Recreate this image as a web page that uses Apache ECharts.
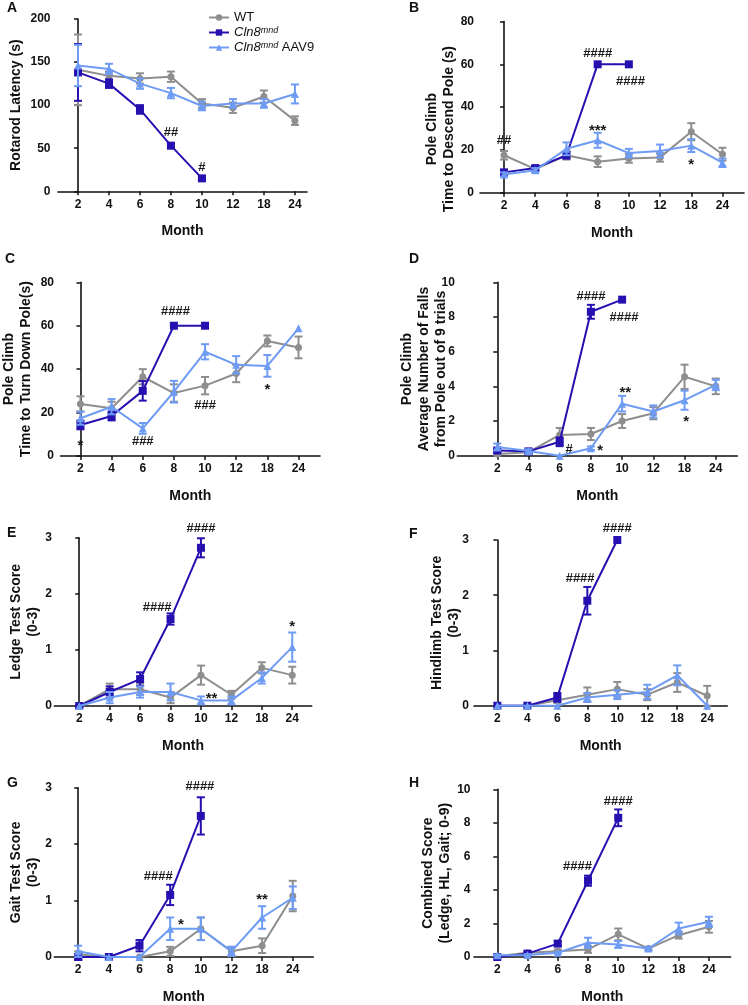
<!DOCTYPE html>
<html><head><meta charset="utf-8">
<script src="https://cdn.jsdelivr.net/npm/echarts@6/dist/echarts.min.js"></script>
<style>html,body{margin:0;padding:0;background:#fff}#c{width:748px;height:1005px}</style>
</head><body><div id="c"></div>
<script>
// ---------- DATA ----------
const months = ['2','4','6','8','10','12','18','24'];
const groups = ['WT','Cln8mnd','Cln8mnd AAV9'];

// A: Rotarod latency (s)
const wtA = [141, 134, 131, 133, 102, 97, 110, 82];
const wtAerr = [41, 5, 6, 6, 5, 6, 7, 5];
const mndA = [138, 125, 95, 53, 15];
const mndAerr = [33, 5, 5, 3, 2];
const aavA = [146, 142, 125, 114, 99, 102, 102, 113];
const aavAerr = [24, 6, 6, 6, 5, 5, 5, 11];
const annA = [[3, 68, '##'], [4, 28, '#']];

// B: Pole climb, time to descend (s)
const wtB = [17.5, 11, 17.5, 14.5, 16, 16.5, 28.5, 18];
const wtBerr = [2, 1, 2, 2.5, 2, 2, 4, 3];
const mndB = [9.5, 11.5, 17.5, 60, 60];
const mndBerr = [1, 1, 1.5, 0, 0];
const aavB = [8.5, 10.5, 20.5, 24.5, 18.5, 19.5, 22, 14];
const aavBerr = [1, 1, 3, 3.5, 2, 3, 3, 2];
const annB = [[0, 24.3, '##'], [3, 65, '####'], [4.05, 52, '####'], [3, 28.9, '***'], [6, 13, '*']];

// C: Pole climb, time to turn down (s)
const wtC = [24, 22, 36.5, 29, 32.4, 38, 53, 50];
const wtCerr = [3.5, 3, 3.5, 4, 4, 4, 2.5, 5];
const mndC = [14.3, 18.4, 30, 60, 60];
const mndCerr = [2, 2, 4.5, 0, 0];
const aavC = [17.4, 22.7, 12.7, 29.6, 48, 42, 41.5, 58.8];
const aavCerr = [3, 3.5, 2.5, 5, 3.5, 4, 5, 0];
const annC = [[0, 4.6, '*'], [2, 6.6, '###'], [3.05, 66.5, '####'], [4, 23.5, '###'], [6, 30.4, '*']];

// D: Average number of falls
const wtD = [0.1, 0.2, 1.2, 1.25, 2.0, 2.45, 4.55, 4.0];
const wtDerr = [0.1, 0.1, 0.4, 0.35, 0.4, 0.35, 0.7, 0.45];
const mndD = [0.3, 0.25, 0.8, 8.3, 9.0];
const mndDerr = [0.1, 0.1, 0.25, 0.4, 0];
const aavD = [0.5, 0.27, 0, 0.43, 3.0, 2.55, 3.2, 4.08];
const aavDerr = [0.2, 0.1, 0, 0.1, 0.45, 0.35, 0.55, 0.3];
const annD = [[3, 9.17, '####'], [4.06, 8.0, '####'], [2.3, 0.39, '#'], [3.3, 0.27, '*'], [4.1, 3.6, '**'], [6.05, 1.94, '*']];

// E: Ledge test score
const wtE = [0, 0.3, 0.3, 0.15, 0.55, 0.2, 0.68, 0.55];
const wtEerr = [0, 0.1, 0.1, 0.1, 0.17, 0.07, 0.1, 0.15];
const mndE = [0, 0.25, 0.48, 1.55, 2.82];
const mndEerr = [0.02, 0.1, 0.12, 0.1, 0.17];
const aavE = [0, 0.15, 0.25, 0.25, 0.1, 0.1, 0.5, 1.05];
const aavEerr = [0, 0.1, 0.1, 0.15, 0.07, 0.07, 0.1, 0.26];
const annE = [[4, 3.17, '####'], [2.56, 1.75, '####'], [4.35, 0.13, '**'], [7, 1.41, '*']];

// F: Hindlimb test score
const wtF = [0, 0, 0.1, 0.2, 0.3, 0.2, 0.42, 0.18];
const wtFerr = [0, 0, 0.05, 0.13, 0.13, 0.1, 0.17, 0.18];
const mndF = [0, 0, 0.15, 1.9, 3.0];
const mndFerr = [0, 0, 0.08, 0.25, 0];
const aavF = [0, 0, 0, 0.15, 0.2, 0.25, 0.55, 0];
const aavFerr = [0, 0, 0, 0.08, 0.08, 0.13, 0.18, 0];
const annF = [[4, 3.21, '####'], [2.76, 2.31, '####']];

// G: Gait test score
const wtG = [0.05, 0, 0, 0.1, 0.5, 0.1, 0.2, 1.08];
const wtGerr = [0.05, 0, 0, 0.08, 0.2, 0.08, 0.13, 0.27];
const mndG = [0, 0, 0.2, 1.1, 2.5];
const mndGerr = [0.05, 0, 0.1, 0.18, 0.33];
const aavG = [0.1, 0, 0, 0.5, 0.5, 0.1, 0.7, 1.05];
const aavGerr = [0.1, 0, 0, 0.2, 0.2, 0.08, 0.2, 0.2];
const annG = [[3.97, 3.02, '####'], [2.61, 1.43, '####'], [3.35, 0.57, '*'], [6, 1.01, '**']];

// H: Combined score
const wtH = [0.05, 0.25, 0.35, 0.45, 1.35, 0.5, 1.3, 1.8];
const wtHerr = [0.05, 0.1, 0.1, 0.2, 0.35, 0.1, 0.2, 0.35];
const mndH = [0, 0.2, 0.8, 4.55, 8.3];
const mndHerr = [0.05, 0.05, 0.15, 0.3, 0.5];
const aavH = [0.1, 0.12, 0.25, 0.85, 0.75, 0.5, 1.7, 2.1];
const aavHerr = [0.05, 0.05, 0.05, 0.3, 0.2, 0.1, 0.35, 0.3];
const annH = [[4, 9.3, '####'], [2.65, 5.38, '####']];

// ---------- PANELS ----------
const FONT = '"Liberation Sans", Arial, Helvetica, sans-serif';
const COL = {wt: '#8e8e8e', mnd: '#2611b0', aav: '#6e9bf4'};
const panels = [
  {letter:'A', d:[wtA,wtAerr,mndA,mndAerr,aavA,aavAerr], ann:annA, yMax:200, yInt:50, yName:'Rotarod Latency (s)',
   grid:{left:58, top:19, width:249, height:172.3}, xr:[-0.645, 7.39], nameGap:33, namePad:null, lm:7.5, lt:[7,1.5]},
  {letter:'B', d:[wtB,wtBerr,mndB,mndBerr,aavB,aavBerr], ann:annB, yMax:80, yInt:20, yName:'Pole Climb\nTime to Descend Pole (s)',
   grid:{left:480, top:19, width:264, height:173.7}, xr:[-0.77, 7.69], nameGap:22.5, namePad:[0,44,0,0], lm:6, lt:[409,1]},
  {letter:'C', d:[wtC,wtCerr,mndC,mndCerr,aavC,aavCerr], ann:annC, yMax:80, yInt:20, yName:'Pole Climb\nTime to Turn Down Pole(s)',
   grid:{left:60, top:282.3, width:260, height:173.7}, xr:[-0.64, 7.69], nameGap:25.5, namePad:null, lm:6.5, lt:[5,252.5]},
  {letter:'D', d:[wtD,wtDerr,mndD,mndDerr,aavD,aavDerr], ann:annD, yMax:10, yInt:2, yName:'Pole Climb\nAverage Number of Falls\nfrom Pole out of 9 trials',
   grid:{left:457.3, top:282.3, width:280, height:173.4}, xr:[-1.28, 7.69], nameGap:8, namePad:null, lm:2.5, lt:[409,252.5]},
  {letter:'E', d:[wtE,wtEerr,mndE,mndEerr,aavE,aavEerr], ann:annE, yMax:3, yInt:1, yName:'Ledge Test Score\n(0-3)',
   grid:{left:54.3, top:537.7, width:257.4, height:168.3}, xr:[-0.82, 7.64], nameGap:12.5, namePad:null, lm:2.5, lt:[7,526.5]},
  {letter:'F', d:[wtF,wtFerr,mndF,mndFerr,aavF,aavFerr], ann:annF, yMax:3, yInt:1, yName:'Hindlimb Test Score\n(0-3)',
   grid:{left:474, top:540, width:253.3, height:165.7}, xr:[-0.78, 7.67], nameGap:11.5, namePad:null, lm:5, lt:[409,527.5]},
  {letter:'G', d:[wtG,wtGerr,mndG,mndGerr,aavG,aavGerr], ann:annG, yMax:3, yInt:1, yName:'Gait Test Score\n(0-3)',
   grid:{left:54.3, top:787.7, width:259, height:170}, xr:[-0.78, 7.67], nameGap:12.5, namePad:null, lm:2.5, lt:[7,776.5]},
  {letter:'H', d:[wtH,wtHerr,mndH,mndHerr,aavH,aavHerr], ann:annH, yMax:10, yInt:2, yName:'Combined Score\n(Ledge, HL, Gait; 0-9)',
   grid:{left:474, top:789.3, width:256.7, height:168.7}, xr:[-0.77, 7.72], nameGap:20, namePad:null, lm:3.5, lt:[409,776.5]}
];

const tickIdx = months.map((m, i) => i);
const grids = [], xAxes = [], yAxes = [], series = [], titles = [];

function errRender(color) {
  return function (params, api) {
    const x = api.value(0), y = api.value(1), e = api.value(2);
    if (!e) return null;
    const t = api.coord([x, y + e]), b = api.coord([x, y - e]);
    const w = 4;
    const st = {stroke: color, lineWidth: 2};
    return {type: 'group', children: [
      {type: 'line', shape: {x1: t[0], y1: t[1], x2: b[0], y2: b[1]}, style: st},
      {type: 'line', shape: {x1: t[0] - w, y1: t[1], x2: t[0] + w, y2: t[1]}, style: st},
      {type: 'line', shape: {x1: b[0] - w, y1: b[1], x2: b[0] + w, y2: b[1]}, style: st}
    ]};
  };
}

panels.forEach((p, k) => {
  grids.push(Object.assign({containLabel: false}, p.grid));
  xAxes.push({
    type: 'value', gridIndex: k, min: p.xr[0], max: p.xr[1],
    axisLine: {show: true, onZero: false, lineStyle: {color: '#111', width: 1.6}},
    axisTick: {show: true, length: 4, customValues: tickIdx, lineStyle: {color: '#111', width: 1.5}},
    axisLabel: {customValues: tickIdx, formatter: v => months[Math.round(v)], fontFamily: FONT, fontWeight: 'bold', fontSize: 12, color: '#111', margin: 7},
    splitLine: {show: false},
    name: 'Month', nameLocation: 'middle', nameGap: 33, nameMoveOverlap: false,
    nameTextStyle: {fontFamily: FONT, fontWeight: 'bold', fontSize: 14, color: '#111'}
  });
  const nts = {fontFamily: FONT, fontWeight: 'bold', fontSize: 14, color: '#111', lineHeight: 17};
  if (p.namePad) nts.padding = p.namePad;
  yAxes.push({
    type: 'value', gridIndex: k, min: 0, max: p.yMax, interval: p.yInt,
    axisLine: {show: true, lineStyle: {color: '#111', width: 1.6}},
    axisTick: {show: true, length: 4, lineStyle: {color: '#111', width: 1.5}},
    axisLabel: {fontFamily: FONT, fontWeight: 'bold', fontSize: 12, color: '#111', margin: p.lm},
    splitLine: {show: false},
    name: p.yName, nameLocation: 'middle', nameRotate: 90, nameGap: p.nameGap, nameMoveOverlap: false,
    nameTextStyle: nts
  });
  titles.push({text: p.letter, left: p.lt[0], top: p.lt[1], padding: 0,
    textStyle: {fontFamily: FONT, fontWeight: 'bold', fontSize: 14, color: '#111'}});

  const defs = [
    {name: groups[0], v: p.d[0], e: p.d[1], color: COL.wt, symbol: 'circle', size: 7},
    {name: groups[1], v: p.d[2], e: p.d[3], color: COL.mnd, symbol: 'rect', size: 8},
    {name: groups[2], v: p.d[4], e: p.d[5], color: COL.aav, symbol: 'triangle', size: 8}
  ];
  defs.forEach((s, j) => {
    const pts = s.v.map((v, i) => [i, v]);
    series.push({
      type: 'custom', name: s.name + ' SEM', xAxisIndex: k, yAxisIndex: k, z: 2 + j,
      renderItem: errRender(s.color), clip: false,
      data: s.v.map((v, i) => [i, v, s.e[i]]), encode: {x: 0, y: 1}, silent: true
    });
    series.push({
      type: 'line', name: s.name, xAxisIndex: k, yAxisIndex: k, z: 2 + j,
      data: pts, symbol: s.symbol, symbolSize: s.size, showSymbol: true,
      lineStyle: {color: s.color, width: 2}, itemStyle: {color: s.color},
      clip: false
    });
  });
  const ann = p.ann;
  series.push({
    type: 'custom', name: 'sig' + k, xAxisIndex: k, yAxisIndex: k, z: 10, silent: true, clip: false,
    data: ann.map(a => [a[0], a[1]]), encode: {x: 0, y: 1},
    renderItem: function (params, api) {
      const c = api.coord([api.value(0), api.value(1)]);
      const txt = ann[params.dataIndex][2];
      return {type: 'text', x: c[0], y: c[1], style: {
        text: txt, fill: '#1a1a1a', fontFamily: FONT, fontWeight: 'bold',
        fontSize: txt.indexOf('*') >= 0 ? 15 : 13, align: 'center', verticalAlign: 'middle'}};
    }
  });
});

const chart = echarts.init(document.getElementById('c'));
chart.setOption({
  animation: false,
  backgroundColor: '#fff',
  title: titles,
  legend: {
    orient: 'vertical', left: 203, top: 6, itemWidth: 20, itemHeight: 8, itemGap: 2,
    data: groups,
    formatter: function (n) {
      if (n === 'WT') return '{n|WT}';
      if (n === 'Cln8mnd') return '{i|Cln8}{s|mnd}';
      return '{i|Cln8}{s|mnd}{n| AAV9}';
    },
    textStyle: {fontFamily: FONT, fontSize: 13, color: '#111',
      rich: {
        n: {fontFamily: FONT, fontSize: 13, color: '#111'},
        i: {fontFamily: FONT, fontSize: 13, fontStyle: 'italic', color: '#111'},
        s: {fontFamily: FONT, fontSize: 9, fontStyle: 'italic', color: '#111', verticalAlign: 'top'}
      }}
  },
  grid: grids, xAxis: xAxes, yAxis: yAxes, series: series
});
</script></body></html>
